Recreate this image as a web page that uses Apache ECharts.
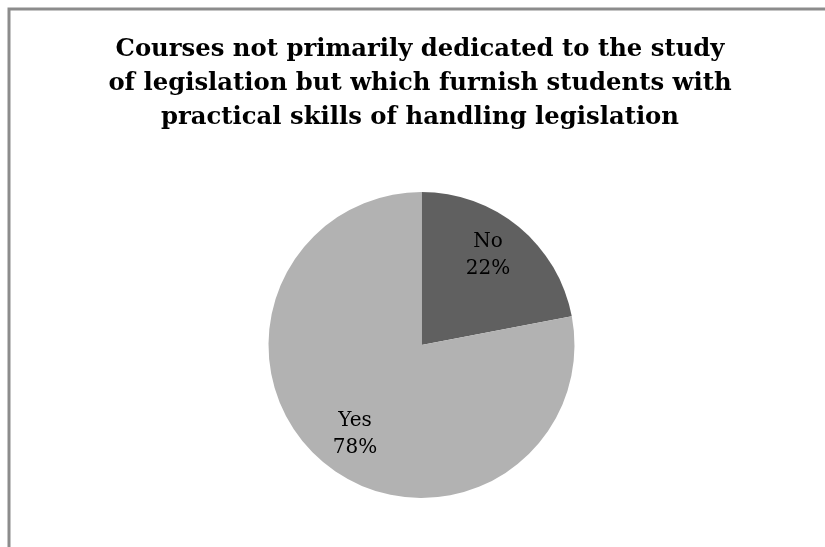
<!DOCTYPE html>
<html>
<head>
<meta charset="utf-8">
<style>
  html, body { margin: 0; padding: 0; background: #ffffff; }
  #chart { width: 825px; height: 547px; }
</style>
<script src="https://cdn.jsdelivr.net/npm/echarts@6/dist/echarts.min.js"></script>
</head>
<body>
<div id="chart"></div>
<script>
// Survey answers
const categories = ['No', 'Yes'];
const shares = [22, 78];
const sliceColors = ['#606060', '#b2b2b2'];
const titleText = 'Courses not primarily dedicated to the study\nof legislation but which furnish students with\npractical skills of handling legislation';

const pieData = categories.map((name, i) => ({ name, value: shares[i] }));
const serif = '"DejaVu Serif", "Liberation Serif", serif';

const chart = echarts.init(document.getElementById('chart'), null, { renderer: 'canvas' });
chart.setOption({
  backgroundColor: '#ffffff',
  animation: false,
  title: {
    text: titleText,
    left: 415,
    textAlign: 'center',
    top: 28,
    textStyle: {
      fontFamily: serif,
      fontWeight: 'bold',
      fontSize: 24.3,
      lineHeight: 34,
      color: '#000000'
    }
  },
  graphic: [{
    // chart frame, open at the right and bottom edges
    type: 'rect',
    silent: true,
    shape: { x: 9, y: 9, width: 1000, height: 1000 },
    style: { fill: 'none', stroke: '#8c8c8c', lineWidth: 3 }
  }],
  series: [
    {
      type: 'pie',
      center: [421.5, 345],
      radius: [0, 153],
      startAngle: 90,
      clockwise: true,
      data: pieData,
      color: sliceColors,
      label: { show: false },
      labelLine: { show: false },
      itemStyle: { borderWidth: 0 }
    },
    {
      // transparent ring that places the category labels further out
      type: 'pie',
      center: [421.5, 345],
      radius: [64, 153],
      startAngle: 93,
      clockwise: true,
      silent: true,
      data: pieData,
      itemStyle: { color: 'rgba(0,0,0,0)', borderWidth: 0 },
      label: {
        show: true,
        position: 'inside',
        formatter: '{b}\n{d}%',
        fontFamily: serif,
        fontSize: 20,
        lineHeight: 27,
        color: '#000000',
        align: 'center'
      },
      labelLine: { show: false }
    }
  ]
});
</script>
</body>
</html>
